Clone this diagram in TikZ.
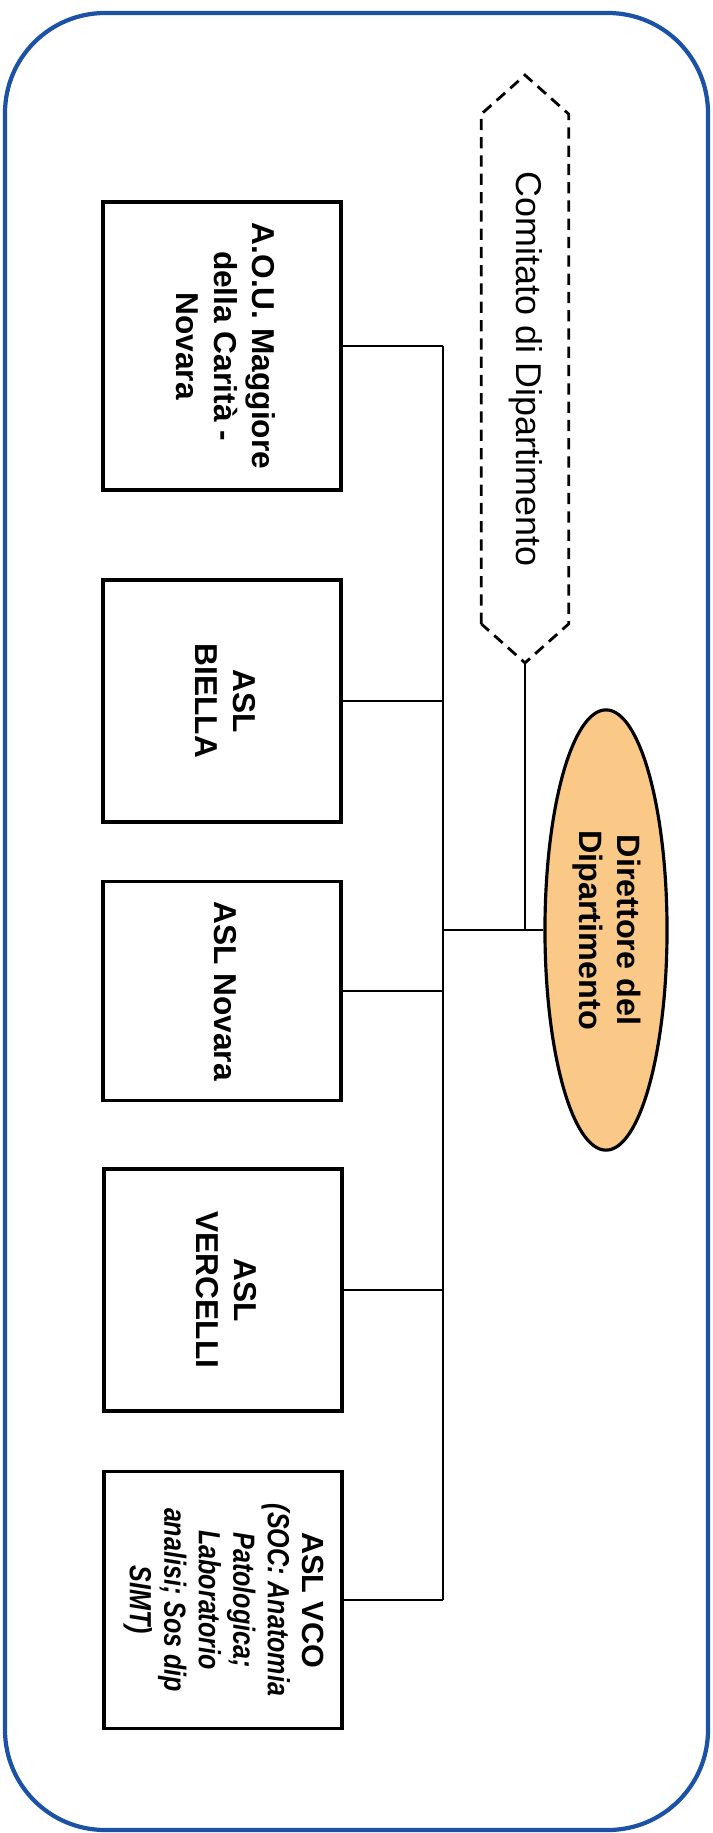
\documentclass[tikz,border=0pt]{standalone}
\usepackage{fontspec}
\setmainfont{Liberation Sans}
\usepackage{graphicx}
\usepackage{xcolor}
\usetikzlibrary{shapes.geometric}
\definecolor{framecol}{RGB}{28,82,165}
\definecolor{dircol}{RGB}{250,200,135}
\newcommand{\vlabel}[1]{\rotatebox{-90}{\begin{tabular}{@{}c@{}}#1\end{tabular}}}
\newcommand{\nit}[1]{\scalebox{0.82}[1]{\textit{#1}}}

\begin{document}
\begin{tikzpicture}[
    x=0.01cm, y=-0.01cm,
    box/.style={rectangle,draw=black,line width=0.95pt,minimum width=2.38cm,inner sep=0pt,font=\fontsize{9}{10.8}\selectfont\bfseries},
    director/.style={ellipse,draw=black,line width=0.9pt,fill=dircol,inner sep=0pt,minimum width=1.22cm,minimum height=4.4cm,font=\fontsize{9.2}{10.8}\selectfont\bfseries},
    committee/.style={rectangle,inner sep=0pt,minimum width=0.86cm,minimum height=5.08cm,font=\fontsize{10.2}{12}\selectfont},
    dashline/.style={draw=black,line width=0.8pt,dash pattern=on 3.2pt off 2pt},
    link/.style={line width=0.6pt}
  ]
  \useasboundingbox (0,0) rectangle (713,1833);
  \draw[framecol,line width=1.2pt,rounded corners=1cm] (5,13) rectangle (708,1830);

  \node[committee] (com) at (525,369) {\vlabel{Comitato di Dipartimento}};
  \coordinate (comtop) at ([yshift=0.39cm]com.north);
  \coordinate (comtip) at ([yshift=-0.39cm]com.south);
  \draw[dashline] (com.south west) -- (com.north west) -- (comtop) -- (com.north east)
    -- (com.south east) -- (comtip) -- cycle;

  \node[director] (dir) at (606,930) {\vlabel{Direttore del\\Dipartimento}};

  \node[box,minimum height=2.88cm] (aou) at (222,346) {\vlabel{A.O.U. Maggiore\\della Carità -\\Novara}};
  \node[box,minimum height=2.42cm] (biella) at (222,701) {\vlabel{ASL\\BIELLA}};
  \node[box,minimum height=2.19cm] (novara) at (222,991) {\vlabel{ASL Novara}};
  \node[box,minimum height=2.42cm] (vercelli) at (223,1290) {\vlabel{ASL\\VERCELLI}};
  \node[box,minimum height=2.57cm,font=\fontsize{8.7}{9.8}\selectfont\bfseries] (vco) at (223,1600)
    {\vlabel{ASL VCO\\\nit{(SOC: Anatomia}\\\nit{Patologica;}\\\nit{Laboratorio}\\\nit{analisi; Sos dip}\\\nit{SIMT)}}};

  \coordinate (bus) at (443,0);

  % Relations
  \draw[link] (aou.east -| bus) -- (vco.east -| bus);
  \foreach \unit in {aou,biella,novara,vercelli,vco}
    \draw[link] (\unit.east) -- (\unit.east -| bus);
  \draw[link] (dir.west) -- (dir.west -| bus);
  \draw[link] (comtip) -- (comtip |- dir.west);
\end{tikzpicture}
\end{document}
